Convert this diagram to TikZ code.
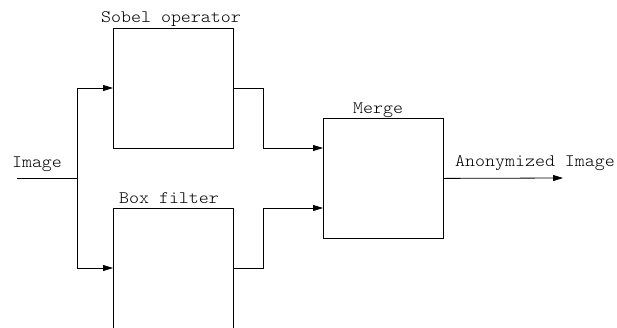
\documentclass[tikz,border=0pt]{standalone}
\usepackage{fontspec}
\newfontfamily\courfont[FakeStretch=1.088]{Latin Modern Mono Light}
\usetikzlibrary{arrows.meta}
\begin{document}
\begin{tikzpicture}[x=1pt,y=-1pt,
  blk/.style={draw,line width=0.8pt,minimum width=120pt,minimum height=120pt,inner sep=0pt,anchor=north west},
  lbl/.style={font=\courfont\fontsize{17.5}{19}\selectfont,inner sep=0pt,anchor=base},
  conn/.style={line width=0.8pt,-{Triangle[length=10pt,width=6pt]}},
  wire/.style={line width=0.8pt}]
\useasboundingbox (0,0) rectangle (617,327);
\begin{scope}
\clip (0,0) rectangle (617,327);
\node[blk] (sobel) at (113,28) {};
\node[blk] (boxf) at (113,208) {};
\node[blk] (merge) at (323,118) {};
\end{scope}
\coordinate (in) at (17,178);
\coordinate (split) at (77,178);
\coordinate (sin) at (113,88);
\coordinate (bin) at (113,268);
\coordinate (sout) at (233,88);
\coordinate (bout) at (233,268);
\coordinate (sbend) at (263,88);
\coordinate (bbend) at (263,268);
\coordinate (min1) at (323,148);
\coordinate (min2) at (323,208);
\coordinate (out) at (563,178);
\node[lbl] (limg) at (37,167) {Image};
\node[lbl] (lsobel) at (171,22) {Sobel operator};
\node[lbl] (lbox) at (169,203) {Box filter};
\node[lbl] (lmerge) at (378,113) {Merge};
\node[lbl] (lanon) at (535,166) {Anonymized Image};
\draw[wire] (in) -- (split);
\draw[conn] (split) |- (sin);
\draw[conn] (split) |- (bin);
\draw[conn] (sout) -- (sbend) |- (min1);
\draw[conn] (bout) -- (bbend) |- (min2);
\draw[conn] (merge.east) -- (out);
\end{tikzpicture}
\end{document}
